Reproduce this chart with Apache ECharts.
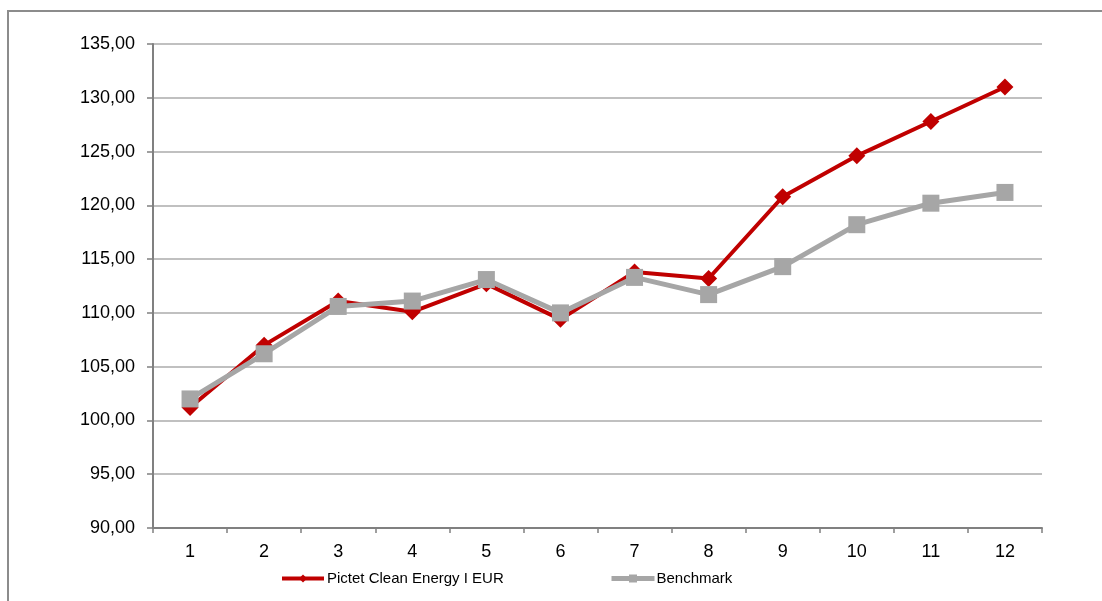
<!DOCTYPE html>
<html>
<head>
<meta charset="utf-8">
<script src="https://cdn.jsdelivr.net/npm/echarts@6/dist/echarts.min.js"></script>
<style>
html,body{margin:0;padding:0;background:#fff;}
#chart{width:1102px;height:601px;}
</style>
</head>
<body>
<div id="chart"></div>
<script>
const categories = ['1','2','3','4','5','6','7','8','9','10','11','12'];
const fundName = 'Pictet Clean Energy I EUR';
const benchName = 'Benchmark';
const fundValues = [101.2, 107.0, 111.1, 110.1, 112.7, 109.4, 113.8, 113.2, 120.8, 124.6, 127.8, 131.0];
const benchValues = [102.0, 106.2, 110.6, 111.1, 113.1, 110.0, 113.3, 111.7, 114.3, 118.2, 120.2, 121.2];

const chart = echarts.init(document.getElementById('chart'));
const font = 'Liberation Sans, Arial, Helvetica, sans-serif';
chart.setOption({
  animation: false,
  backgroundColor: '#fff',
  graphic: [{
    type: 'rect',
    shape: {x: 8, y: 11, width: 1200, height: 700},
    style: {fill: 'none', stroke: '#8c8c8c', lineWidth: 2},
    silent: true, z: -1
  }],
  grid: {left: 153, right: 60, top: 44, bottom: 73, containLabel: false},
  legend: [{
    data: [fundName],
    left: 280, top: 571, padding: 0,
    itemWidth: 42, itemHeight: 10, itemGap: 0,
    lineStyle: {width: 4},
    textStyle: {fontFamily: font, fontSize: 15, color: '#000', padding: [0,0,0,-2]}
  }, {
    data: [benchName],
    left: 609, top: 571, padding: 0,
    itemWidth: 43, itemHeight: 10, itemGap: 0,
    lineStyle: {width: 5},
    textStyle: {fontFamily: font, fontSize: 15, color: '#000', padding: [0,0,0,-3]}
  }],
  xAxis: {
    type: 'category',
    data: categories,
    boundaryGap: true,
    axisLine: {lineStyle: {color: '#808080', width: 2}},
    axisTick: {show: true, length: 5, lineStyle: {color: '#808080', width: 1.5}},
    axisLabel: {color: '#000', fontFamily: font, fontSize: 18, margin: 15}
  },
  yAxis: {
    type: 'value',
    min: 90, max: 135, interval: 5,
    axisLine: {show: true, lineStyle: {color: '#808080', width: 2}},
    axisTick: {show: true, length: 6, lineStyle: {color: '#808080', width: 1.5}},
    splitLine: {lineStyle: {color: '#c0c0c0', width: 2}},
    axisLabel: {
      color: '#000', fontFamily: font, fontSize: 18, margin: 18,
      formatter: v => v.toFixed(2).replace('.', ',')
    }
  },
  series: [{
    name: fundName,
    type: 'line',
    data: fundValues,
    symbol: 'diamond',
    symbolSize: 17,
    lineStyle: {color: '#c00000', width: 4},
    itemStyle: {color: '#c00000'},
    z: 2
  }, {
    name: benchName,
    type: 'line',
    data: benchValues,
    symbol: 'rect',
    symbolSize: 17,
    lineStyle: {color: '#a6a6a6', width: 5},
    itemStyle: {color: '#a6a6a6'},
    z: 3
  }]
});
</script>
</body>
</html>
